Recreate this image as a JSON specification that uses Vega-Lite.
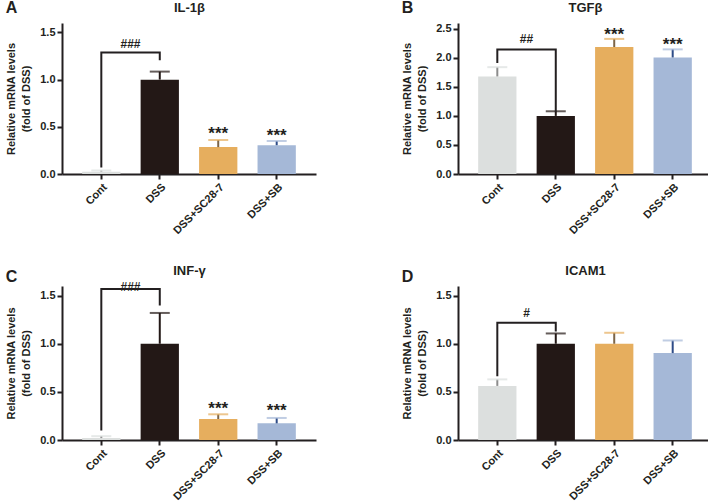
{
  "$schema": "https://vega.github.io/schema/vega-lite/v6.json",
  "background": "white",
  "padding": {"left": 5, "top": 0, "right": 0, "bottom": 0},
  "datasets": {
    "bars": [
      {"p": "A", "g": "Cont", "m": 0.025, "e": 0.037},
      {"p": "A", "g": "DSS", "m": 1.0, "e": 1.085},
      {"p": "A", "g": "DSS+SC28-7", "m": 0.285, "e": 0.36},
      {"p": "A", "g": "DSS+SB", "m": 0.305, "e": 0.35},
      {"p": "B", "g": "Cont", "m": 1.68, "e": 1.84},
      {"p": "B", "g": "DSS", "m": 1.0, "e": 1.08},
      {"p": "B", "g": "DSS+SC28-7", "m": 2.187, "e": 2.326},
      {"p": "B", "g": "DSS+SB", "m": 2.007, "e": 2.146},
      {"p": "C", "g": "Cont", "m": 0.02, "e": 0.04},
      {"p": "C", "g": "DSS", "m": 1.0, "e": 1.32},
      {"p": "C", "g": "DSS+SC28-7", "m": 0.218, "e": 0.267},
      {"p": "C", "g": "DSS+SB", "m": 0.173, "e": 0.229},
      {"p": "D", "g": "Cont", "m": 0.562, "e": 0.63},
      {"p": "D", "g": "DSS", "m": 1.0, "e": 1.107},
      {"p": "D", "g": "DSS+SC28-7", "m": 1.0, "e": 1.114},
      {"p": "D", "g": "DSS+SB", "m": 0.903, "e": 1.034}
    ],
    "stars": [
      {"p": "A", "g": "DSS+SC28-7", "y": 0.372, "t": "***"},
      {"p": "A", "g": "DSS+SB", "y": 0.351, "t": "***"},
      {"p": "B", "g": "DSS+SC28-7", "y": 2.3, "t": "***"},
      {"p": "B", "g": "DSS+SB", "y": 2.14, "t": "***"},
      {"p": "C", "g": "DSS+SC28-7", "y": 0.266, "t": "***"},
      {"p": "C", "g": "DSS+SB", "y": 0.248, "t": "***"}
    ],
    "brackets": [
      {"p": "A", "g": "Cont", "y": 0.08, "o": 1},
      {"p": "A", "g": "Cont", "y": 1.287, "o": 2},
      {"p": "A", "g": "DSS", "y": 1.287, "o": 3},
      {"p": "A", "g": "DSS", "y": 1.217, "o": 4},
      {"p": "B", "g": "Cont", "y": 1.93, "o": 1},
      {"p": "B", "g": "Cont", "y": 2.144, "o": 2},
      {"p": "B", "g": "DSS", "y": 2.144, "o": 3},
      {"p": "B", "g": "DSS", "y": 1.09, "o": 4},
      {"p": "C", "g": "Cont", "y": 0.108, "o": 1},
      {"p": "C", "g": "Cont", "y": 1.57, "o": 2},
      {"p": "C", "g": "DSS", "y": 1.57, "o": 3},
      {"p": "C", "g": "DSS", "y": 1.407, "o": 4},
      {"p": "D", "g": "Cont", "y": 0.672, "o": 1},
      {"p": "D", "g": "Cont", "y": 1.217, "o": 2},
      {"p": "D", "g": "DSS", "y": 1.217, "o": 3},
      {"p": "D", "g": "DSS", "y": 1.138, "o": 4}
    ],
    "hash": [
      {"p": "A", "g": "Cont", "y": 1.337, "t": "###"},
      {"p": "B", "g": "Cont", "y": 2.25, "t": "##"},
      {"p": "C", "g": "Cont", "y": 1.543, "t": "###"},
      {"p": "D", "g": "Cont", "y": 1.276, "t": "#"}
    ]
  },
  "vconcat": [
    {
      "hconcat": [
        {
          "title": {"text": "A"},
          "width": 254, "height": 151,
          "resolve": {"axis": {"x": "independent"}},
          "layer": [
            {"data": {"name": "bars"}, "transform": [{"filter": "datum.p === 'A'"}], "mark": {"type": "bar"},
             "encoding": {
               "x": {"field": "g", "type": "nominal", "scale": {"domain": ["Cont", "DSS", "DSS+SC28-7", "DSS+SB"], "paddingInner": 0.345, "paddingOuter": 0.345}, "axis": {"orient": "bottom", "title": null}},
               "y": {"field": "m", "type": "quantitative", "scale": {"domain": [0, 1.5]}, "axis": {"values": [0, 0.5, 1, 1.5], "format": ".1f", "title": ["Relative mRNA levels", "(fold of DSS)"]}},
               "color": {"field": "g", "type": "nominal", "scale": {"domain": ["Cont", "DSS", "DSS+SC28-7", "DSS+SB"], "range": ["#dcdfde", "#231816", "#e6ae5e", "#a5b8d7"]}, "legend": null}}},
            {"data": {"name": "bars"}, "transform": [{"filter": "datum.p === 'A'"}], "mark": {"type": "rule", "strokeWidth": 2},
             "encoding": {"x": {"field": "g", "type": "nominal", "axis": {"orient": "top", "title": "IL-1β", "domain": false, "ticks": false, "labels": false, "titleFontSize": 13, "titlePadding": 9}},
               "y": {"field": "m", "type": "quantitative", "axis": {"values": [0, 0.5, 1, 1.5], "format": ".1f", "title": ["Relative mRNA levels", "(fold of DSS)"]}}, "y2": {"field": "e"},
               "stroke": {"field": "g", "type": "nominal", "scale": {"domain": ["Cont", "DSS", "DSS+SC28-7", "DSS+SB"], "range": ["#8c8c8c", "#231816", "#7d6547", "#2d4b87"]}, "legend": null}}},
            {"data": {"name": "bars"}, "transform": [{"filter": "datum.p === 'A'"}], "mark": {"type": "tick", "orient": "horizontal", "size": 20, "thickness": 2},
             "encoding": {"x": {"field": "g", "type": "nominal", "axis": null}, "y": {"field": "e", "type": "quantitative", "axis": {"values": [0, 0.5, 1, 1.5], "format": ".1f", "title": ["Relative mRNA levels", "(fold of DSS)"]}},
               "color": {"field": "g", "type": "nominal", "scale": {"domain": ["Cont", "DSS", "DSS+SC28-7", "DSS+SB"], "range": ["#8c8c8c", "#231816", "#7d6547", "#2d4b87"]}, "legend": null}}},
            {"data": {"name": "brackets"}, "transform": [{"filter": "datum.p === 'A'"}], "mark": {"type": "line", "strokeWidth": 2, "color": "#231f20", "strokeJoin": "miter", "strokeCap": "square"},
             "encoding": {"x": {"field": "g", "type": "nominal", "axis": null}, "y": {"field": "y", "type": "quantitative", "axis": {"values": [0, 0.5, 1, 1.5], "format": ".1f", "title": ["Relative mRNA levels", "(fold of DSS)"]}}, "order": {"field": "o"}}},
            {"data": {"name": "hash"}, "transform": [{"filter": "datum.p === 'A'"}], "mark": {"type": "text", "fontSize": 12, "fontWeight": "bold", "font": "Liberation Sans", "color": "#231f20", "baseline": "alphabetic"},
             "encoding": {"x": {"field": "g", "type": "nominal", "bandPosition": 1.263, "axis": null}, "y": {"field": "y", "type": "quantitative", "axis": {"values": [0, 0.5, 1, 1.5], "format": ".1f", "title": ["Relative mRNA levels", "(fold of DSS)"]}}, "text": {"field": "t"}}},
            {"data": {"name": "stars"}, "transform": [{"filter": "datum.p === 'A'"}], "mark": {"type": "text", "fontSize": 17, "fontWeight": "bold", "font": "Liberation Sans", "color": "#231f20", "baseline": "alphabetic"},
             "encoding": {"x": {"field": "g", "type": "nominal", "axis": null}, "y": {"field": "y", "type": "quantitative", "axis": {"values": [0, 0.5, 1, 1.5], "format": ".1f", "title": ["Relative mRNA levels", "(fold of DSS)"]}}, "text": {"field": "t"}}}
          ]
        },
        {
          "title": {"text": "B"},
          "width": 254, "height": 151,
          "resolve": {"axis": {"x": "independent"}},
          "layer": [
            {"data": {"name": "bars"}, "transform": [{"filter": "datum.p === 'B'"}], "mark": {"type": "bar"},
             "encoding": {
               "x": {"field": "g", "type": "nominal", "scale": {"domain": ["Cont", "DSS", "DSS+SC28-7", "DSS+SB"], "paddingInner": 0.345, "paddingOuter": 0.345}, "axis": {"orient": "bottom", "title": null}},
               "y": {"field": "m", "type": "quantitative", "scale": {"domain": [0, 2.5]}, "axis": {"values": [0, 0.5, 1, 1.5, 2, 2.5], "format": ".1f", "title": ["Relative mRNA levels", "(fold of DSS)"]}},
               "color": {"field": "g", "type": "nominal", "scale": {"domain": ["Cont", "DSS", "DSS+SC28-7", "DSS+SB"], "range": ["#dcdfde", "#231816", "#e6ae5e", "#a5b8d7"]}, "legend": null}}},
            {"data": {"name": "bars"}, "transform": [{"filter": "datum.p === 'B'"}], "mark": {"type": "rule", "strokeWidth": 2},
             "encoding": {"x": {"field": "g", "type": "nominal", "axis": {"orient": "top", "title": "TGFβ", "domain": false, "ticks": false, "labels": false, "titleFontSize": 13, "titlePadding": 9}},
               "y": {"field": "m", "type": "quantitative", "axis": {"values": [0, 0.5, 1, 1.5, 2, 2.5], "format": ".1f", "title": ["Relative mRNA levels", "(fold of DSS)"]}}, "y2": {"field": "e"},
               "stroke": {"field": "g", "type": "nominal", "scale": {"domain": ["Cont", "DSS", "DSS+SC28-7", "DSS+SB"], "range": ["#8c8c8c", "#231816", "#7d6547", "#2d4b87"]}, "legend": null}}},
            {"data": {"name": "bars"}, "transform": [{"filter": "datum.p === 'B'"}], "mark": {"type": "tick", "orient": "horizontal", "size": 20, "thickness": 2},
             "encoding": {"x": {"field": "g", "type": "nominal", "axis": null}, "y": {"field": "e", "type": "quantitative", "axis": {"values": [0, 0.5, 1, 1.5, 2, 2.5], "format": ".1f", "title": ["Relative mRNA levels", "(fold of DSS)"]}},
               "color": {"field": "g", "type": "nominal", "scale": {"domain": ["Cont", "DSS", "DSS+SC28-7", "DSS+SB"], "range": ["#8c8c8c", "#231816", "#7d6547", "#2d4b87"]}, "legend": null}}},
            {"data": {"name": "brackets"}, "transform": [{"filter": "datum.p === 'B'"}], "mark": {"type": "line", "strokeWidth": 2, "color": "#231f20", "strokeJoin": "miter", "strokeCap": "square"},
             "encoding": {"x": {"field": "g", "type": "nominal", "axis": null}, "y": {"field": "y", "type": "quantitative", "axis": {"values": [0, 0.5, 1, 1.5, 2, 2.5], "format": ".1f", "title": ["Relative mRNA levels", "(fold of DSS)"]}}, "order": {"field": "o"}}},
            {"data": {"name": "hash"}, "transform": [{"filter": "datum.p === 'B'"}], "mark": {"type": "text", "fontSize": 12, "fontWeight": "bold", "font": "Liberation Sans", "color": "#231f20", "baseline": "alphabetic"},
             "encoding": {"x": {"field": "g", "type": "nominal", "bandPosition": 1.263, "axis": null}, "y": {"field": "y", "type": "quantitative", "axis": {"values": [0, 0.5, 1, 1.5, 2, 2.5], "format": ".1f", "title": ["Relative mRNA levels", "(fold of DSS)"]}}, "text": {"field": "t"}}},
            {"data": {"name": "stars"}, "transform": [{"filter": "datum.p === 'B'"}], "mark": {"type": "text", "fontSize": 17, "fontWeight": "bold", "font": "Liberation Sans", "color": "#231f20", "baseline": "alphabetic"},
             "encoding": {"x": {"field": "g", "type": "nominal", "axis": null}, "y": {"field": "y", "type": "quantitative", "axis": {"values": [0, 0.5, 1, 1.5, 2, 2.5], "format": ".1f", "title": ["Relative mRNA levels", "(fold of DSS)"]}}, "text": {"field": "t"}}}
          ]
        }
      ],
      "spacing": 85
    },
    {
      "hconcat": [
        {
          "title": {"text": "C", "offset": -21},
          "width": 254, "height": 154,
          "resolve": {"axis": {"x": "independent"}},
          "layer": [
            {"data": {"name": "bars"}, "transform": [{"filter": "datum.p === 'C'"}], "mark": {"type": "bar"},
             "encoding": {
               "x": {"field": "g", "type": "nominal", "scale": {"domain": ["Cont", "DSS", "DSS+SC28-7", "DSS+SB"], "paddingInner": 0.345, "paddingOuter": 0.345}, "axis": {"orient": "bottom", "title": null}},
               "y": {"field": "m", "type": "quantitative", "scale": {"domain": [0, 1.5]}, "axis": {"values": [0, 0.5, 1, 1.5], "format": ".1f", "title": ["Relative mRNA levels", "(fold of DSS)"]}},
               "color": {"field": "g", "type": "nominal", "scale": {"domain": ["Cont", "DSS", "DSS+SC28-7", "DSS+SB"], "range": ["#dcdfde", "#231816", "#e6ae5e", "#a5b8d7"]}, "legend": null}}},
            {"data": {"name": "bars"}, "transform": [{"filter": "datum.p === 'C'"}], "mark": {"type": "rule", "strokeWidth": 2},
             "encoding": {"x": {"field": "g", "type": "nominal", "axis": {"orient": "top", "title": "INF-γ", "domain": false, "ticks": false, "labels": false, "titleFontSize": 13, "titlePadding": 9}},
               "y": {"field": "m", "type": "quantitative", "axis": {"values": [0, 0.5, 1, 1.5], "format": ".1f", "title": ["Relative mRNA levels", "(fold of DSS)"]}}, "y2": {"field": "e"},
               "stroke": {"field": "g", "type": "nominal", "scale": {"domain": ["Cont", "DSS", "DSS+SC28-7", "DSS+SB"], "range": ["#8c8c8c", "#231816", "#7d6547", "#2d4b87"]}, "legend": null}}},
            {"data": {"name": "bars"}, "transform": [{"filter": "datum.p === 'C'"}], "mark": {"type": "tick", "orient": "horizontal", "size": 20, "thickness": 2},
             "encoding": {"x": {"field": "g", "type": "nominal", "axis": null}, "y": {"field": "e", "type": "quantitative", "axis": {"values": [0, 0.5, 1, 1.5], "format": ".1f", "title": ["Relative mRNA levels", "(fold of DSS)"]}},
               "color": {"field": "g", "type": "nominal", "scale": {"domain": ["Cont", "DSS", "DSS+SC28-7", "DSS+SB"], "range": ["#8c8c8c", "#231816", "#7d6547", "#2d4b87"]}, "legend": null}}},
            {"data": {"name": "brackets"}, "transform": [{"filter": "datum.p === 'C'"}], "mark": {"type": "line", "strokeWidth": 2, "color": "#231f20", "strokeJoin": "miter", "strokeCap": "square"},
             "encoding": {"x": {"field": "g", "type": "nominal", "axis": null}, "y": {"field": "y", "type": "quantitative", "axis": {"values": [0, 0.5, 1, 1.5], "format": ".1f", "title": ["Relative mRNA levels", "(fold of DSS)"]}}, "order": {"field": "o"}}},
            {"data": {"name": "hash"}, "transform": [{"filter": "datum.p === 'C'"}], "mark": {"type": "text", "fontSize": 12, "fontWeight": "bold", "font": "Liberation Sans", "color": "#231f20", "baseline": "alphabetic"},
             "encoding": {"x": {"field": "g", "type": "nominal", "bandPosition": 1.263, "axis": null}, "y": {"field": "y", "type": "quantitative", "axis": {"values": [0, 0.5, 1, 1.5], "format": ".1f", "title": ["Relative mRNA levels", "(fold of DSS)"]}}, "text": {"field": "t"}}},
            {"data": {"name": "stars"}, "transform": [{"filter": "datum.p === 'C'"}], "mark": {"type": "text", "fontSize": 17, "fontWeight": "bold", "font": "Liberation Sans", "color": "#231f20", "baseline": "alphabetic"},
             "encoding": {"x": {"field": "g", "type": "nominal", "axis": null}, "y": {"field": "y", "type": "quantitative", "axis": {"values": [0, 0.5, 1, 1.5], "format": ".1f", "title": ["Relative mRNA levels", "(fold of DSS)"]}}, "text": {"field": "t"}}}
          ]
        },
        {
          "title": {"text": "D", "offset": -21},
          "width": 254, "height": 154,
          "resolve": {"axis": {"x": "independent"}},
          "layer": [
            {"data": {"name": "bars"}, "transform": [{"filter": "datum.p === 'D'"}], "mark": {"type": "bar"},
             "encoding": {
               "x": {"field": "g", "type": "nominal", "scale": {"domain": ["Cont", "DSS", "DSS+SC28-7", "DSS+SB"], "paddingInner": 0.345, "paddingOuter": 0.345}, "axis": {"orient": "bottom", "title": null}},
               "y": {"field": "m", "type": "quantitative", "scale": {"domain": [0, 1.5]}, "axis": {"values": [0, 0.5, 1, 1.5], "format": ".1f", "title": ["Relative mRNA levels", "(fold of DSS)"]}},
               "color": {"field": "g", "type": "nominal", "scale": {"domain": ["Cont", "DSS", "DSS+SC28-7", "DSS+SB"], "range": ["#dcdfde", "#231816", "#e6ae5e", "#a5b8d7"]}, "legend": null}}},
            {"data": {"name": "bars"}, "transform": [{"filter": "datum.p === 'D'"}], "mark": {"type": "rule", "strokeWidth": 2},
             "encoding": {"x": {"field": "g", "type": "nominal", "axis": {"orient": "top", "title": "ICAM1", "domain": false, "ticks": false, "labels": false, "titleFontSize": 13, "titlePadding": 9}},
               "y": {"field": "m", "type": "quantitative", "axis": {"values": [0, 0.5, 1, 1.5], "format": ".1f", "title": ["Relative mRNA levels", "(fold of DSS)"]}}, "y2": {"field": "e"},
               "stroke": {"field": "g", "type": "nominal", "scale": {"domain": ["Cont", "DSS", "DSS+SC28-7", "DSS+SB"], "range": ["#8c8c8c", "#231816", "#7d6547", "#2d4b87"]}, "legend": null}}},
            {"data": {"name": "bars"}, "transform": [{"filter": "datum.p === 'D'"}], "mark": {"type": "tick", "orient": "horizontal", "size": 20, "thickness": 2},
             "encoding": {"x": {"field": "g", "type": "nominal", "axis": null}, "y": {"field": "e", "type": "quantitative", "axis": {"values": [0, 0.5, 1, 1.5], "format": ".1f", "title": ["Relative mRNA levels", "(fold of DSS)"]}},
               "color": {"field": "g", "type": "nominal", "scale": {"domain": ["Cont", "DSS", "DSS+SC28-7", "DSS+SB"], "range": ["#8c8c8c", "#231816", "#7d6547", "#2d4b87"]}, "legend": null}}},
            {"data": {"name": "brackets"}, "transform": [{"filter": "datum.p === 'D'"}], "mark": {"type": "line", "strokeWidth": 2, "color": "#231f20", "strokeJoin": "miter", "strokeCap": "square"},
             "encoding": {"x": {"field": "g", "type": "nominal", "axis": null}, "y": {"field": "y", "type": "quantitative", "axis": {"values": [0, 0.5, 1, 1.5], "format": ".1f", "title": ["Relative mRNA levels", "(fold of DSS)"]}}, "order": {"field": "o"}}},
            {"data": {"name": "hash"}, "transform": [{"filter": "datum.p === 'D'"}], "mark": {"type": "text", "fontSize": 12, "fontWeight": "bold", "font": "Liberation Sans", "color": "#231f20", "baseline": "alphabetic"},
             "encoding": {"x": {"field": "g", "type": "nominal", "bandPosition": 1.263, "axis": null}, "y": {"field": "y", "type": "quantitative", "axis": {"values": [0, 0.5, 1, 1.5], "format": ".1f", "title": ["Relative mRNA levels", "(fold of DSS)"]}}, "text": {"field": "t"}}}
          ]
        }
      ],
      "spacing": 85
    }
  ],
  "spacing": 28,
  "config": {
    "view": {"stroke": null},
    "font": "Liberation Sans",
    "title": {"font": "Liberation Sans", "fontWeight": "bold", "fontSize": 16, "color": "#231f20", "anchor": "start", "frame": "bounds", "offset": -15},
    "axis": {
      "grid": false,
      "domainColor": "#231f20", "domainWidth": 2,
      "tickColor": "#231f20", "tickWidth": 2, "tickSize": 5,
      "labelFont": "Liberation Sans", "labelFontWeight": "bold", "labelFontSize": 11, "labelColor": "#231f20",
      "titleFont": "Liberation Sans", "titleFontWeight": "bold", "titleFontSize": 11, "titleLineHeight": 15, "titleColor": "#231f20", "titlePadding": 8
    },
    "axisX": {"labelAngle": -45, "labelPadding": 2},
    "axisY": {"labelPadding": 2}
  }
}
